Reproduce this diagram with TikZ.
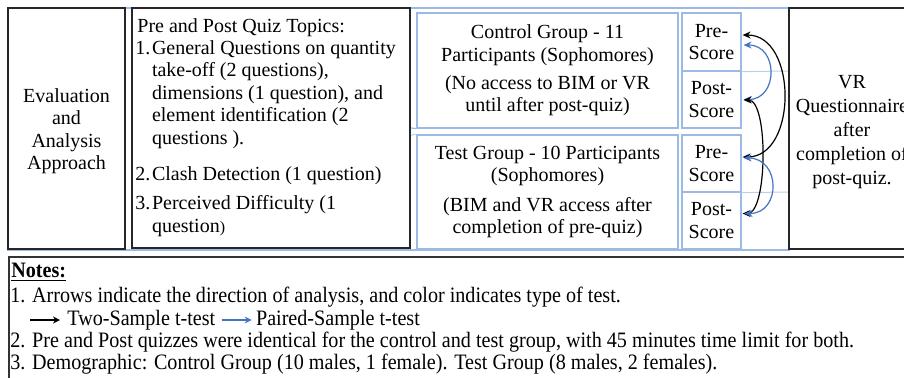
\documentclass[tikz,border=0pt]{standalone}
\usepackage{fontspec}
\setmainfont{Liberation Serif}
\newfontfamily\notesfont[FakeStretch=0.915]{Liberation Serif}
\usetikzlibrary{arrows.meta,calc,positioning}
\definecolor{frameblue}{RGB}{155,187,228}
\definecolor{arrowblue}{RGB}{68,114,196}

\begin{document}
\begin{tikzpicture}[x=0.5pt,y=-0.5pt,
    font=\fontsize{10}{11.2}\selectfont,
    blackbox/.style={draw=black!85,line width=0.8pt,inner sep=0pt},
    groupbox/.style={draw=frameblue,line width=0.6pt,inner sep=0pt,align=center,
        minimum width=130.5pt},
    scorebox/.style={draw=frameblue,line width=0.6pt,inner sep=0pt,align=center,
        minimum width=29.5pt,minimum height=28.5pt},
    textline/.style={anchor=base west,inner sep=0pt,align=left},
    notesline/.style={textline,font=\notesfont\fontsize{11}{12}\selectfont},
    twosample/.style={black,line width=0.6pt,{Stealth[length=4pt,width=3.5pt]}-{Stealth[length=4pt,width=3.5pt]}},
    paired/.style={arrowblue,line width=0.6pt,{Stealth[length=4pt,width=3.5pt]}-{Stealth[length=4pt,width=3.5pt]}},
    legendarrow/.style={line width=0.7pt,-{Stealth[length=3.5pt,width=3.5pt]}}
]

    % Page size
    \useasboundingbox (0,0) rectangle (904,377);
    \clip (0,0) rectangle (904,377);

    % Outer blue frame of the table
    \draw[frameblue,line width=0.6pt] (8,8) rectangle (789,250);

    % First column
    \node[blackbox,minimum width=58.5pt,minimum height=120.5pt] (eval) at (66.5,128.5) {};
    \node[align=center,inner sep=0pt] (evaltext) at (66.5,131) {Evaluation\\and\\Analysis\\Approach};

    % Second column: quiz topics (multi-line nodes sit on their last baseline)
    \node[blackbox,minimum width=139pt,minimum height=120pt] (topics) at (271,128) {};
    \node[textline] (topictitle) at (137,32) {Pre and Post Quiz Topics:};
    \node[textline] (topicone) at (135,144) {\makebox[8.3pt][l]{1.}General Questions on quantity\\
        \hspace*{8.3pt}take-off (2 questions),\\
        \hspace*{8.3pt}dimensions (1 question), and\\
        \hspace*{8.3pt}element identification (2\\
        \hspace*{8.3pt}questions ).};
    \node[textline] (topictwo) at (135,180) {\makebox[8.3pt][l]{2.}Clash Detection (1 question)};
    \node[textline,font=\fontsize{10}{11.5}\selectfont] (topicthree) at (135,232)
        {\makebox[8.3pt][l]{3.}Perceived Difficulty (1\\
        \hspace*{8.3pt}question{\fontsize{8}{9}\selectfont)}};

    % Group boxes
    \node[groupbox,minimum height=57.5pt] (ctrl) at (547.5,70.5)
        {Control Group - 11\\Participants (Sophomores)\\[3pt](No access to BIM or VR\\until after post-quiz)};
    \node[groupbox,minimum height=57pt] (test) at (547.5,192)
        {Test Group - 10 Participants\\(Sophomores)\\[3.5pt](BIM and VR access after\\completion of pre-quiz)};
    \draw[frameblue,line width=0.6pt] (411,128) -- (ctrl.south west);
    \draw[frameblue!60,line width=0.6pt] (411,135) -- (test.north west);

    % Score boxes
    \node[scorebox,minimum height=29pt] (cpre) at (711.5,42) {Pre-\\Score};
    \node[scorebox] (cpost) at (711.5,99.5) {Post-\\Score};
    \node[scorebox] (tpre) at (711.5,163.5) {Pre-\\Score};
    \node[scorebox] (tpost) at (711.5,220.5) {Post-\\Score};
    \draw[frameblue!70,line width=0.5pt] (cpre.south east) -- (789,71);
    \draw[frameblue!70,line width=0.5pt] (tpre.south east) -- (789,192);

    % Last column
    \node[blackbox,minimum width=63pt,minimum height=120.5pt] (vrq) at (852,128.5) {};
    \node[align=center,inner sep=0pt,font=\fontsize{10}{11.9}\selectfont] (vrqtext) at (852,132)
        {VR\\Questionnaire\\after\\completion of\\post-quiz.};

    % Analysis arrows
    \draw[twosample] ($(cpre.east)+(1,-7)$) .. controls +(55,0) and +(55,0) .. ($(tpre.east)+(1,-6.5)$);
    \draw[paired] ($(cpre.east)+(2,3)$) .. controls +(35,0) and +(35,0) .. ($(cpost.east)+(2,0)$);
    \draw[twosample] ($(cpost.east)+(2,0.5)$) .. controls +(25,0) and +(25,0) .. ($(tpost.east)+(1,-7)$);
    \draw[paired] ($(tpre.east)+(2,-5.5)$) .. controls +(37,0) and +(37,0) .. ($(tpost.east)+(3,-7)$);

    % Notes box
    \draw[black!80,line width=0.8pt] (9,257) rectangle (915,390);
    \node[notesline,font=\notesfont\bfseries\fontsize{11}{12}\selectfont] (notestitle) at (11,277) {\underline{Notes:}};
    \node[notesline] (noteone) at (10,302)
        {1. Arrows indicate the direction of analysis, and color indicates type of test.};
    \coordinate (blackstart) at (30,320);
    \coordinate (blackend) at (60,320);
    \draw[legendarrow,black] (blackstart) -- (blackend);
    \node[notesline] (twolabel) at (67,325) {Two-Sample t-test};
    \coordinate (bluestart) at ($(twolabel.base east)+(6,-5)$);
    \coordinate (blueend) at ($(bluestart)+(30,0)$);
    \draw[legendarrow,arrowblue] (bluestart) -- (blueend);
    \node[notesline] (pairedlabel) at ($(blueend)+(4,5)$) {Paired-Sample t-test};
    \node[notesline] (notetwo) at (10,347)
        {2. Pre and Post quizzes were identical for the control and test group, with 45 minutes time limit for both.};
    \node[notesline] (notethree) at (10,369)
        {3. Demographic: Control Group (10 males, 1 female). Test Group (8 males, 2 females).};

\end{tikzpicture}
\end{document}
